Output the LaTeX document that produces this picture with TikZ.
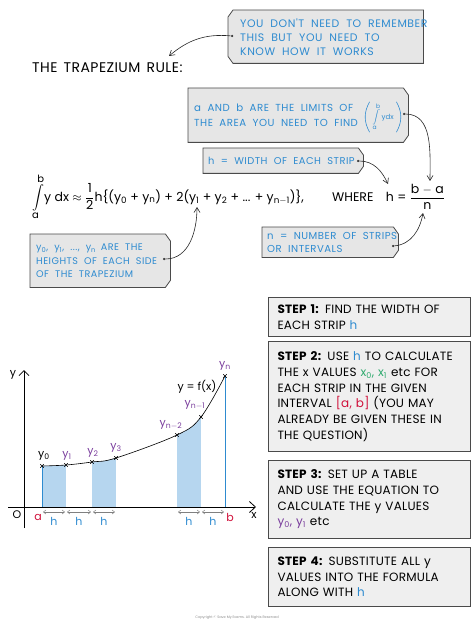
\documentclass[tikz,border=0pt]{standalone}
\usepackage{amsmath}
\usepackage{fontspec}
\setmainfont{Poppins}
\newfontfamily\callfont[LetterSpace=5,WordSpace=2]{Poppins}
\newfontfamily\stepfont[LetterSpace=2,WordSpace=1.5]{Poppins}
\newfontfamily\titlefont[LetterSpace=3,WordSpace=1.5]{Poppins}
\usetikzlibrary{arrows.meta,calc}
\definecolor{cblue}{HTML}{2E8BD0}
\definecolor{boxfill}{HTML}{E6E6E6}
\definecolor{boxline}{HTML}{4A4A4A}
\definecolor{stepfill}{HTML}{EFEFEF}
\definecolor{cpurple}{HTML}{7A3E9D}
\definecolor{cred}{HTML}{D0103A}
\definecolor{cgreen}{HTML}{2FAA6E}
\definecolor{lightblue}{HTML}{B6D6EF}
\definecolor{cgray}{HTML}{808080}
\newcommand\tagR[1]{\draw[line width=0.8pt,draw=boxline,fill=boxfill] (#1.north west) -- ([xshift=-5pt]#1.north east) -- ([yshift=-7pt]#1.north east) -- ([yshift=7pt]#1.south east) -- ([xshift=-5pt]#1.south east) -- (#1.south west) -- cycle;}
\newcommand\tagL[1]{\draw[line width=0.8pt,draw=boxline,fill=boxfill] ([xshift=5pt]#1.north west) -- (#1.north east) -- (#1.south east) -- ([xshift=5pt]#1.south west) -- ([yshift=7pt]#1.south west) -- ([yshift=-7pt]#1.north west) -- cycle;}
\newcommand\sub[1]{\textsubscript{#1}}
\tikzset{
  frame/.style={anchor=north west, inner sep=0pt, draw=none},
  callt/.style={anchor=west, inner sep=0pt, align=left, text=cblue, font=\callfont\fontsize{11}{14}\selectfont},
  stepbox/.style={anchor=north west, draw=boxline, line width=1pt, fill=stepfill, inner xsep=9pt, inner ysep=0pt, align=left, text width=184pt, font=\stepfont\fontsize{12}{15.7}\selectfont},
  ptr/.style={-{Straight Barb[length=5pt,width=6pt]}, line width=0.6pt, black!85},
  dotstart/.style={circle, fill=black!80, inner sep=0pt, minimum size=2.5pt},
  glabel/.style={font=\fontsize{11}{12}\selectfont, inner sep=0pt},
  harrow/.style={cgray, line width=0.5pt, {Straight Barb[length=2.5pt,width=4pt]}-{Straight Barb[length=2.5pt,width=4pt]}},
  cross/.style={line width=0.5pt},
  paren/.style={cblue, line width=0.6pt},
}
\begin{document}
\begin{tikzpicture}[x=1pt,y=-1pt]
\useasboundingbox (0,0) rectangle (474,628);

% callout 1
\node[frame, minimum width=195pt, minimum height=53pt] (c1) at (228,10) {};
\tagL{c1}
\node[callt, font=\callfont\fontsize{10.9}{14}\selectfont] (c1t) at (240,37) {YOU DON'T NEED TO REMEMBER\\THIS BUT YOU NEED TO\\KNOW HOW IT WORKS};
\node[dotstart] (d1) at (232,36) {};
\coordinate (t1) at (169,56);
\draw[ptr] (d1) to[out=175,in=40] (t1);

% title
\node[anchor=west, font=\titlefont\fontsize{14}{16}\selectfont, inner sep=0pt] (title) at (32,68) {THE TRAPEZIUM RULE:};

% callout 2
\node[frame, minimum width=220pt, minimum height=54pt] (c2) at (188,88) {};
\tagR{c2}
\node[callt, font=\callfont\fontsize{10.2}{15}\selectfont] (c2t) at (194,115) {a AND b ARE THE LIMITS OF\\THE AREA YOU NEED TO FIND};
\node[text=cblue, inner sep=0pt, font=\fontsize{7}{8}\selectfont] (c2int) at (383,117) {$\displaystyle\int\limits_{\mbox{\fontsize{6}{6}\selectfont a}}^{\mbox{\fontsize{6}{6}\selectfont b}}\mbox{ydx}$};
\draw[paren] ([xshift=-2.5pt,yshift=1pt]c2int.north west) to[bend right=30] ([xshift=-2.5pt,yshift=-1pt]c2int.south west);
\draw[paren] ([xshift=2.5pt,yshift=1pt]c2int.north east) to[bend left=30] ([xshift=2.5pt,yshift=-1pt]c2int.south east);
\node[dotstart] (d2) at (404,114) {};

% callout 3
\node[frame, minimum width=160pt, minimum height=25pt] (c3) at (203,148) {};
\tagR{c3}
\node[callt, font=\callfont\fontsize{9.9}{14}\selectfont] (c3t) at (208,161) {h = WIDTH OF EACH STRIP};
\node[dotstart] (d3) at (358,161) {};

% formula
\node[anchor=west, inner sep=0pt, font=\fontsize{12.5}{14}\selectfont] (formula) at (32,197) {$\displaystyle\int\limits_{\mbox{\fontsize{10}{10}\selectfont a}}^{\mbox{\fontsize{10}{10}\selectfont b}}$y dx $\approx$ $\dfrac{\mbox{1}}{\mbox{2}}$h\{(y\sub{0} + y\sub{n}) + 2(y\sub{1} + y\sub{2} + ... + y\sub{n$-$1})\},};
\node[anchor=west, inner sep=0pt, font=\fontsize{12.5}{14}\selectfont] (where) at (332,197) {WHERE\quad h = $\dfrac{\mbox{b $-$ a}}{\mbox{n}}$};
\coordinate (t2) at (430,181);
\coordinate (t3) at (388,184);
\coordinate (t4) at (197,207);
\coordinate (t5) at (423,213);
\draw[ptr] (d2) to[out=0,in=90] (t2);
\draw[ptr] (d3) to[out=0,in=115] (t3);

% callout 4
\node[frame, minimum width=140pt, minimum height=53pt] (c4) at (30,234) {};
\tagR{c4}
\node[callt, font=\callfont\fontsize{9.6}{13.5}\selectfont] (c4t) at (36,261) {y\sub{0}, y\sub{1}, ..., y\sub{n}\enspace ARE THE\\HEIGHTS OF EACH SIDE\\OF THE TRAPEZIUM};
\node[dotstart] (d4) at (164,259) {};
\draw[ptr] (d4) to[out=0,in=-90] (t4);

% callout 5
\node[frame, minimum width=136pt, minimum height=30pt] (c5) at (262,227) {};
\tagR{c5}
\node[callt, font=\callfont\fontsize{10.1}{13}\selectfont] (c5t) at (267,242) {n = NUMBER OF STRIPS\\OR INTERVALS};
\node[dotstart] (d5) at (393,246) {};
\draw[ptr] (d5) to[out=5,in=-100] (t5);

% steps
\node[stepbox, minimum height=39pt] (s1) at (268,297) {\textbf{STEP 1:} FIND THE WIDTH OF\\EACH STRIP \textcolor{cblue}{h}};
\node[stepbox, minimum height=110pt] (s2) at (268,341) {\textbf{STEP 2:} USE \textcolor{cblue}{h} TO CALCULATE\\THE x VALUES \textcolor{cgreen}{x\sub{0}, x\sub{1}} etc FOR\\EACH STRIP IN THE GIVEN\\INTERVAL \textcolor{cred}{[a, b]} (YOU MAY\\ALREADY BE GIVEN THESE IN\\THE QUESTION)};
\node[stepbox, minimum height=78pt] (s3) at (268,460) {\textbf{STEP 3:} SET UP A TABLE\\AND USE THE EQUATION TO\\CALCULATE THE y VALUES\\\textcolor{cpurple}{y\sub{0}, y\sub{1}} etc};
\node[stepbox, minimum height=59pt] (s4) at (268,547) {\textbf{STEP 4:} SUBSTITUTE ALL y\\VALUES INTO THE FORMULA\\ALONG WITH \textcolor{cblue}{h}};

% graph
\coordinate (p0) at (42,466);
\coordinate (p1) at (66,465);
\coordinate (p2) at (92,462);
\coordinate (p3) at (116,458);
\coordinate (p4) at (177,435);
\coordinate (p5) at (201,417);
\coordinate (p6) at (225,376);
\begin{scope}
\clip plot[smooth, tension=0.6] coordinates {(p0) (p1) (p2) (p3) (p4) (p5) (p6)} -- (225,507) -- (42,507) -- cycle;
\fill[lightblue] (42,350) rectangle (66,507);
\fill[lightblue] (92,350) rectangle (116,507);
\fill[lightblue] (177,350) rectangle (201,507);
\end{scope}
\draw[cblue, line width=0.8pt] (42,507) -- (p0);
\draw[cblue, line width=0.8pt] (225,507) -- (p6);
\draw[line width=0.6pt] plot[smooth, tension=0.6] coordinates {(p0) (p1) (p2) (p3) (p4) (p5) (p6)};
\foreach \p in {p0,p1,p2,p3,p4,p5,p6}{
  \draw[cross] ($(\p)+(-1.8,-1.8)$) -- ($(\p)+(1.8,1.8)$);
  \draw[cross] ($(\p)+(-1.8,1.8)$) -- ($(\p)+(1.8,-1.8)$);
}
\coordinate (ybot) at (24,528);
\coordinate (ytop) at (24,370);
\coordinate (xl) at (8,507);
\coordinate (xr) at (256,507);
\draw[line width=0.8pt, -{Straight Barb[length=5pt,width=10pt]}] (ybot) -- (ytop);
\draw[line width=0.8pt, -{Straight Barb[length=6pt,width=11pt]}] (xl) -- (xr);
\node[glabel] (ylab) at (13,375) {y};
\node[glabel] (xlab) at (254,515) {x};
\node[glabel] (olab) at (17,515) {O};
\node[glabel, text=cred] (alab) at (38,517) {a};
\node[glabel, text=cred] (blab) at (230,517) {b};
\foreach \a/\b/\c in {42/66/54,66/92/79,92/116/104,177/201/189,201/225/213}{
  \draw[harrow] (\a+1,512) -- (\b-1,512);
  \node[glabel, text=cblue] at (\c,521) {h};
}
\node[glabel] (l0) at (44,456) {y\sub{0}};
\node[glabel, text=cpurple] (l1) at (67,456) {y\sub{1}};
\node[glabel, text=cpurple] (l2) at (93,453) {y\sub{2}};
\node[glabel, text=cpurple] (l3) at (116,448) {y\sub{3}};
\node[glabel, text=cpurple] (l4) at (171,425) {y\sub{n$-$2}};
\node[glabel, text=cpurple] (l5) at (195,405) {y\sub{n$-$1}};
\node[glabel, text=cpurple] (l6) at (225,366) {y\sub{n}};
\node[glabel] (fx) at (197,387) {y = f(x)};

\node[font=\fontsize{3.5}{4}\selectfont, text=black!45] (copy) at (237,618) {Copyright \textcopyright\ Save My Exams. All Rights Reserved};
\end{tikzpicture}
\end{document}
